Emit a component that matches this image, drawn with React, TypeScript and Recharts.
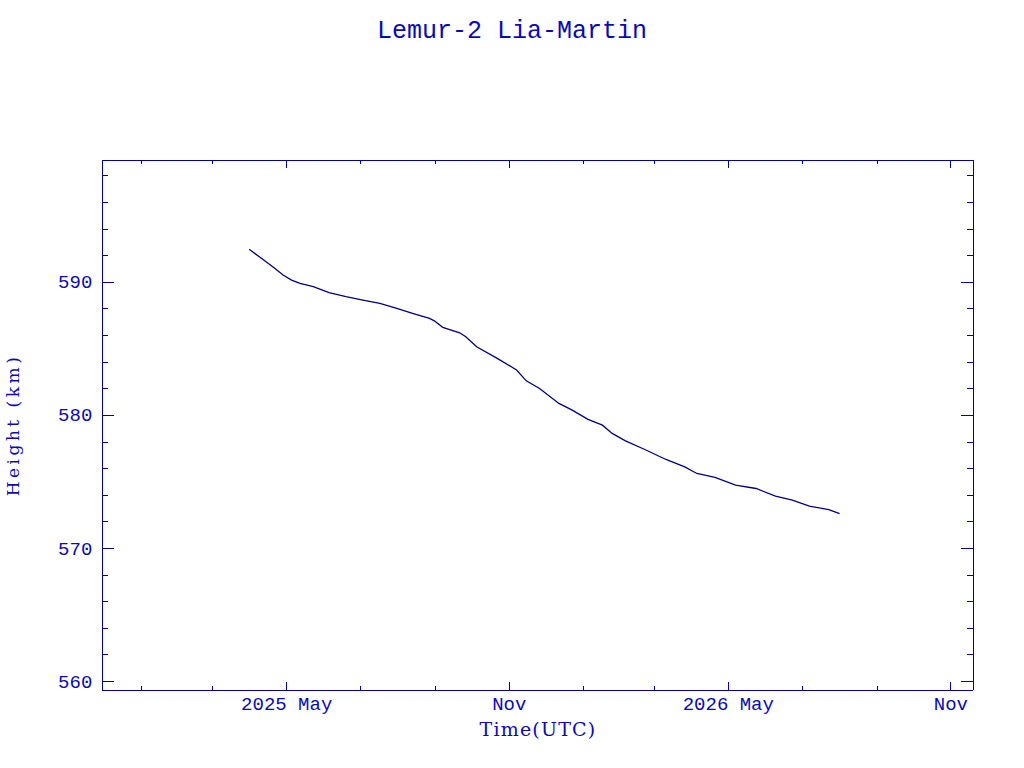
import { LineChart, Line, XAxis, YAxis } from 'recharts'

// orbit height samples
const dates = [
  '2025-03-31', '2025-04-12', '2025-04-20', '2025-04-28', '2025-05-05', '2025-05-12',
  '2025-05-23', '2025-06-05', '2025-06-19', '2025-07-03', '2025-07-17', '2025-07-31',
  '2025-08-13', '2025-08-27', '2025-08-31', '2025-09-07', '2025-09-21', '2025-09-26',
  '2025-10-05', '2025-10-22', '2025-11-07', '2025-11-15', '2025-11-26', '2025-12-12',
  '2025-12-23', '2026-01-05', '2026-01-17', '2026-01-25', '2026-02-05', '2026-02-21',
  '2026-03-10', '2026-03-26', '2026-04-05', '2026-04-20', '2026-05-07', '2026-05-24',
  '2026-06-09', '2026-06-23', '2026-07-07', '2026-07-23', '2026-08-01',
]
const heights = [
  592.48, 591.68, 591.13, 590.55, 590.17, 589.92,
  589.67, 589.22, 588.92, 588.67, 588.42, 588.05,
  587.67, 587.29, 587.11, 586.62, 586.21, 585.91,
  585.16, 584.29, 583.41, 582.6, 582.03, 580.9,
  580.4, 579.7, 579.27, 578.65, 578.09, 577.44,
  576.71, 576.14, 575.64, 575.34, 574.76, 574.51,
  573.93, 573.63, 573.18, 572.93, 572.63,
]

const majorMonths = ['2025-05-01', '2025-11-01', '2026-05-01', '2026-11-01']
const majorLabels = ['2025 May', 'Nov', '2026 May', 'Nov']
const minorMonths = [
  '2025-01-01', '2025-03-01', '2025-07-01', '2025-09-01',
  '2026-01-01', '2026-03-01', '2026-07-01', '2026-09-01',
]
const timeRange = ['2024-11-29T14:00:00Z', '2026-11-19T12:00:00Z']

const heightMajor = [560, 570, 580, 590]
const heightMinor = [562, 564, 566, 568, 572, 574, 576, 578, 582, 584, 586, 588, 592, 594, 596, 598]
const heightRange = [559.37, 599.17]

const AXIS = '#0000a0'
const TEXT = '#0a0ab4'
const LINE = '#000080'
const MONO = '"Liberation Mono", "DejaVu Sans Mono", monospace'
const SERIF = '"DejaVu Serif", "Liberation Serif", serif'

const data = dates.map((d, i) => ({ t: Date.parse(d), h: heights[i] }))
const majorTimes = majorMonths.map((d) => Date.parse(d))
const timeTicks = [...majorTimes, ...minorMonths.map((d) => Date.parse(d))].sort((a, b) => a - b)
const timeDomain = timeRange.map((d) => Date.parse(d))
const heightTicks = [...heightMajor, ...heightMinor].sort((a, b) => a - b)

const frame = { stroke: AXIS, shapeRendering: 'crispEdges' }

function BottomTick({ x, y, payload }: any) {
  const i = majorTimes.indexOf(payload.value)
  return (
    <g>
      <line x1={x} x2={x} y1={y} y2={y - (i >= 0 ? 8 : 4)} stroke={AXIS} shapeRendering="crispEdges" />
      {i >= 0 && (
        <text x={x} y={y + 20} textAnchor="middle" fill={TEXT} fontFamily={MONO} fontSize={19}>
          {majorLabels[i]}
        </text>
      )}
    </g>
  )
}

function TopTick({ x, y, payload }: any) {
  const major = majorTimes.includes(payload.value)
  return <line x1={x} x2={x} y1={y} y2={y + (major ? 8 : 4)} stroke={AXIS} shapeRendering="crispEdges" />
}

function LeftTick({ x, y, payload }: any) {
  const major = heightMajor.includes(payload.value)
  return (
    <g>
      <line x1={x} x2={x + (major ? 12 : 6)} y1={y} y2={y} stroke={AXIS} shapeRendering="crispEdges" />
      {major && (
        <text x={x - 10} y={y + 6} textAnchor="end" fill={TEXT} fontFamily={MONO} fontSize={19}>
          {payload.value}
        </text>
      )}
    </g>
  )
}

function RightTick({ x, y, payload }: any) {
  const major = heightMajor.includes(payload.value)
  return <line x1={x} x2={x - (major ? 12 : 6)} y1={y} y2={y} stroke={AXIS} shapeRendering="crispEdges" />
}

export default function App() {
  return (
    <div style={{ position: 'absolute', left: 0, top: 0, width: 1024, height: 768, background: '#fff' }}>
      <LineChart
        width={1024}
        height={768}
        data={data}
        margin={{ top: 159.3, right: 49.7, bottom: 48, left: 42.3 }}
      >
        <XAxis
          dataKey="t"
          type="number"
          domain={timeDomain}
          allowDataOverflow
          ticks={timeTicks}
          interval={0}
          height={30}
          tickSize={0}
          tickMargin={0}
          tickLine={false}
          axisLine={frame}
          tick={(p: any) => <BottomTick {...p} />}
        />
        <XAxis
          xAxisId="top"
          orientation="top"
          dataKey="t"
          type="number"
          domain={timeDomain}
          allowDataOverflow
          ticks={timeTicks}
          interval={0}
          height={1}
          tickSize={0}
          tickMargin={0}
          tickLine={false}
          axisLine={frame}
          tick={(p: any) => <TopTick {...p} />}
        />
        <YAxis
          dataKey="h"
          type="number"
          domain={heightRange}
          allowDataOverflow
          ticks={heightTicks}
          interval={0}
          width={60}
          tickSize={0}
          tickMargin={0}
          tickLine={false}
          axisLine={frame}
          tick={(p: any) => <LeftTick {...p} />}
        />
        <YAxis
          yAxisId="right"
          orientation="right"
          dataKey="h"
          type="number"
          domain={heightRange}
          allowDataOverflow
          ticks={heightTicks}
          interval={0}
          width={1}
          tickSize={0}
          tickMargin={0}
          tickLine={false}
          axisLine={frame}
          tick={(p: any) => <RightTick {...p} />}
        />
        <Line
          type="linear"
          dataKey="h"
          stroke={LINE}
          strokeWidth={1.3}
          dot={false}
          isAnimationActive={false}
        />
        {/* invisible twin so the mirrored frame axes get drawn */}
        <Line
          xAxisId="top"
          yAxisId="right"
          type="linear"
          dataKey="h"
          stroke="none"
          dot={false}
          legendType="none"
          isAnimationActive={false}
        />
      </LineChart>
      <svg
        width={1024}
        height={768}
        style={{ position: 'absolute', left: 0, top: 0, pointerEvents: 'none' }}
      >
        <text x={512} y={38} textAnchor="middle" fill={TEXT} fontFamily={MONO} fontSize={25}>
          Lemur-2 Lia-Martin
        </text>
        <text x={538} y={736} textAnchor="middle" fill={TEXT} fontFamily={SERIF} fontSize={19} letterSpacing={1.2}>
          Time(UTC)
        </text>
        <text
          x={19}
          y={425}
          transform="rotate(-90 19 425)"
          textAnchor="middle"
          fill={TEXT}
          fontFamily={SERIF}
          fontSize={17}
          letterSpacing={3.5}
        >
          Height (km)
        </text>
      </svg>
    </div>
  )
}
